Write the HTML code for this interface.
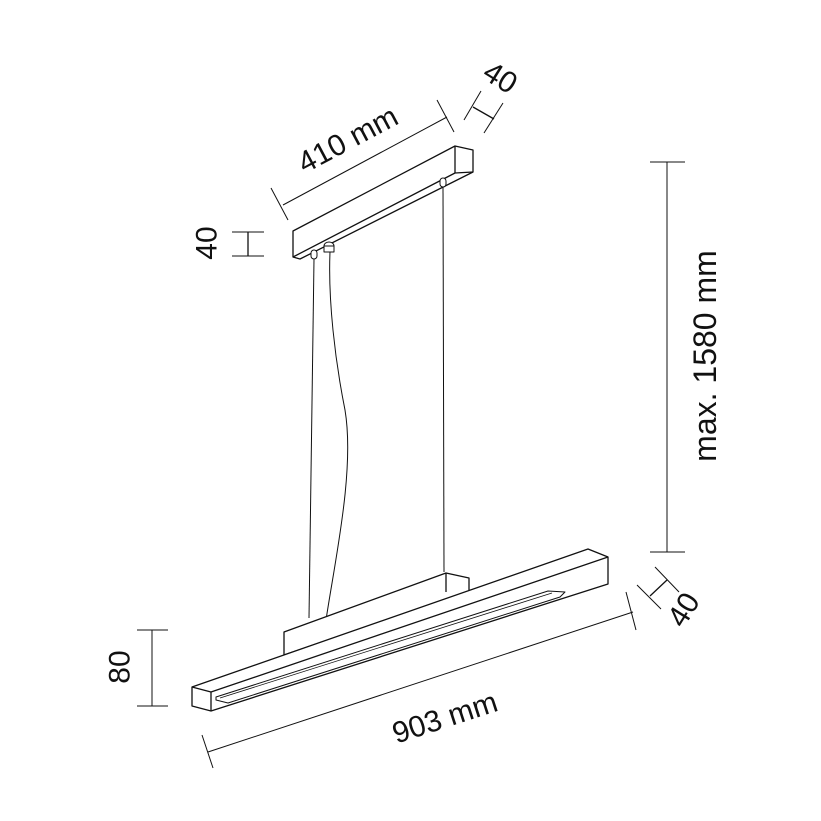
<!DOCTYPE html>
<html><head><meta charset="utf-8"><style>
html,body{margin:0;padding:0;background:#fff;}
svg{display:block}
text{font-family:"Liberation Sans",sans-serif;fill:#111;}
</style></head><body>
<svg width="821" height="821" viewBox="0 0 821 821" xmlns="http://www.w3.org/2000/svg">
<g fill="none" stroke="#111" stroke-width="1.3" stroke-linejoin="round">
<path d="M293,231 L455,146 L473,150 L473,172 L300,259 L293,257 Z" fill="#fff"/>
<path d="M293,257 L455,173 L473,172 M455,146 L455,173"/>
<rect x="311" y="250" width="6" height="9" rx="3" fill="#fff" stroke-width="1"/>
<ellipse cx="329" cy="246" rx="5" ry="4" fill="#fff" stroke-width="1"/>
<rect x="324" y="246" width="10" height="6" fill="#fff" stroke-width="1"/>
<rect x="440" y="178" width="6" height="9" rx="3" fill="#fff" stroke-width="1"/>
<path d="M314,259 L309,618" stroke-width="1"/>
<path d="M330,252 C328,300 335,360 345,410 C355,470 335,560 326,620" stroke-width="1"/>
<path d="M443,187 L444,572" stroke-width="1"/>
<path d="M284,632 L446,573 L469,578 L469,592 L284,655 Z" fill="#fff"/>
<path d="M446,573 L446,592"/>
<path d="M192,687 L588,549 L608,557 L608,584 L211,711 L192,706 Z" fill="#fff"/>
<path d="M192,687 L211,692 L608,557 M211,692 L211,711"/>
<path d="M216,697 L548,591 L565,592 L560,597 L228,703 L216,700 Z" fill="#fff" stroke-width="1"/>
<path d="M220,698 L552,593" stroke-width="0.8"/>
</g>
<g fill="none" stroke="#111" stroke-width="1">
<line x1="283" y1="205" x2="447" y2="117"/>
<line x1="271" y1="188" x2="288" y2="220"/>
<line x1="437" y1="100" x2="454" y2="132"/>
<line x1="473" y1="107" x2="494" y2="119" stroke-width="1.3"/>
<line x1="464" y1="120" x2="481" y2="91"/>
<line x1="484" y1="133" x2="503" y2="103"/>
<line x1="248" y1="232" x2="248" y2="256" stroke-width="1.3"/>
<line x1="232" y1="232" x2="264" y2="232"/>
<line x1="232" y1="256" x2="264" y2="256"/>
<line x1="667" y1="162" x2="667" y2="552"/>
<line x1="650" y1="162" x2="685" y2="162"/>
<line x1="650" y1="552" x2="685" y2="552"/>
<line x1="152" y1="630" x2="152" y2="706"/>
<line x1="137" y1="630" x2="168" y2="630"/>
<line x1="137" y1="706" x2="168" y2="706"/>
<line x1="208" y1="752" x2="633" y2="612"/>
<line x1="202" y1="735" x2="213" y2="768"/>
<line x1="626" y1="592" x2="636" y2="630"/>
<line x1="650" y1="596" x2="667" y2="580" stroke-width="1.3"/>
<line x1="637" y1="585" x2="661" y2="609"/>
<line x1="655" y1="567" x2="679" y2="592"/>
</g>
<g font-size="30" text-anchor="middle" dominant-baseline="central">
<text transform="translate(348,140) rotate(-28)">410 mm</text>
<text transform="translate(500,78) rotate(32)">40</text>
<text transform="translate(207,243) rotate(-90)">40</text>
<text transform="translate(705,356) rotate(-90)" font-size="32">max. 1580 mm</text>
<text transform="translate(120,667) rotate(-90)">80</text>
<text transform="translate(445,718) rotate(-18)">903 mm</text>
<text transform="translate(684,610) rotate(-58)">40</text>
</g>
</svg>
</body></html>
